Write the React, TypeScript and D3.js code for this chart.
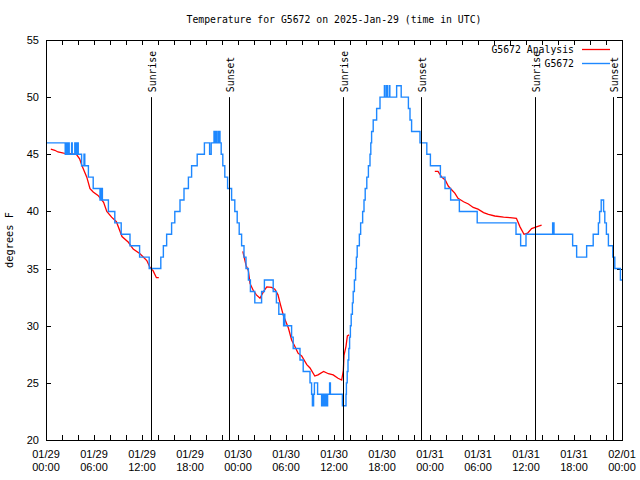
import { useEffect, useRef } from 'react'
import * as d3 from 'd3'

const BASE = Date.UTC(2025, 0, 29)
const HOUR = 3600 * 1000

// G5672 observations: hours since 01/29 00:00 UTC where the reading changes, degrees F
const obsHours = [
  0, 2.4, 2.55, 2.63, 2.8, 2.9, 3.2, 3.28, 3.6, 3.68, 3.82, 3.9, 3.95, 4.03, 4.45, 4.75, 4.85, 5.3, 5.9, 6.75,
  6.9, 7.05, 7.8, 8.6, 9.4, 10.5, 11.7, 12.9, 14.35, 14.67, 15.08, 15.7, 16.1, 16.75, 17.25, 17.8, 18.2, 18.9,
  19.8, 20.45, 20.65, 21.0, 21.08, 21.25, 21.33, 21.52, 21.6, 21.67, 21.75, 21.9, 22.1, 22.35, 22.7, 23.2,
  23.6, 23.9, 24.15, 24.45, 24.75, 25.0, 25.3, 25.55, 26.1, 26.95, 27.3, 28.4, 28.8, 29.1, 29.7, 29.8, 29.85,
  30.7, 30.9, 31.75, 32.15, 33.0, 33.2, 33.3, 33.45, 33.55, 33.95, 34.45, 34.55, 34.65, 34.75, 34.85, 35.0,
  35.1, 35.2, 35.45, 35.55, 37.05, 37.5, 37.55, 37.65, 37.75, 37.85, 37.95, 38.05, 38.15, 38.3, 38.4, 38.55,
  38.7, 38.8, 38.9, 39.17, 39.33, 39.58, 39.75, 39.9, 40.1, 40.3, 40.5, 40.6, 40.7, 40.9, 41.33, 41.75,
  42.3, 42.38, 42.58, 42.66, 42.9, 42.98, 43.83, 44.4, 45.3, 45.5, 45.7, 46.0, 46.75, 47.6, 48.05, 49.3,
  49.875, 50.58, 51.67, 53.9, 58.75, 59.33, 60.0, 63.33, 63.5, 65.83, 66.33, 67.58, 68.4, 69.05, 69.2, 69.4,
  69.7, 69.85, 70.05, 70.3, 70.85, 71.1, 71.8, 72,
]
const obsTemps = [
  46, 45, 46, 45, 46, 45, 46, 45, 46, 45, 46, 45, 46, 45, 44, 45, 44, 43, 42, 41,
  42, 41, 40, 39, 38, 37, 36, 35, 36, 37, 38, 39, 40, 41, 42, 43, 44, 45,
  46, 45, 46, 47, 46, 47, 46, 47, 46, 47, 46, 45, 44, 43, 42, 41,
  40, 39, 38, 37, 36, 35, 34, 33, 32, 33, 34, 33, 32, 31, 30, 31, 30,
  29, 28, 27, 26, 25, 24, 23, 24, 25, 24, 23, 24, 23, 24, 23, 24,
  23, 24, 25, 24, 23, 24, 25, 26, 27, 28, 29, 30, 31, 32, 33, 34,
  35, 36, 37, 38, 39, 40, 41, 42, 43, 44, 45, 46, 47, 48, 49, 50,
  51, 50, 51, 50, 51, 50, 51, 50, 49, 48, 47, 47, 46, 45, 44, 43,
  42, 41, 40, 39, 38, 37, 38, 39, 38, 37, 36, 37, 38, 39, 40, 41,
  40, 39, 38, 37, 36, 35, 34, 34,
]

// G5672 Analysis (null = no analysis)
const anaHours = [
  0.6, 1.1, 1.5, 2.2, 3.8, 4.2, 4.5, 4.8, 5.1, 5.5, 5.9, 6.5, 7.2, 7.6, 8.2, 8.8, 9.5, 10.3, 10.9, 11.75,
  12.6, 13.0, 13.4, 13.8, 14.1, 19,
  24.6, 25.0, 25.3, 25.5, 25.9, 26.3, 26.75, 27.2, 27.6, 28.2, 28.6, 29.0, 29.25, 29.67, 30.3, 30.7, 31.1,
  31.5, 31.96, 32.6, 33.0, 33.6, 34.0, 34.7, 35.3, 35.9, 36.5, 36.96, 37.17, 37.25, 37.5, 37.67, 37.9, 43,
  48.6, 49.0, 49.46, 49.9, 50.3, 50.7, 51.1, 51.5, 52.2, 52.8, 53.4, 54.0, 54.7, 55.3, 56.1, 57.2, 58.0,
  58.8, 59.25, 59.75, 60.2, 60.7, 61.3, 61.95,
]
const anaTemps = [
  45.45, 45.35, 45.2, 45.1, 45.0, 44.6, 44.0, 43.5, 43.0, 42.0, 41.7, 41.4, 40.8, 40.0, 39.5, 39.1, 37.8, 37.3, 36.7, 36.3,
  35.7, 35.1, 34.8, 34.2, 34.2, null,
  36.5, 35.3, 34.8, 33.7, 33.1, 32.7, 32.4, 33.0, 33.4, 33.35, 33.2, 32.7, 32.0, 30.9, 29.8, 28.75, 28.2,
  27.6, 27.35, 26.6, 26.3, 25.6, 25.7, 26.0, 25.8, 25.7, 25.4, 25.25, 26.1, 27.4, 28.2, 29.1, 29.2, null,
  43.5, 43.5, 43.0, 42.75, 42.2, 41.9, 41.6, 41.15, 40.85, 40.65, 40.35, 40.2, 39.9, 39.75, 39.6, 39.5, 39.45,
  39.4, 38.65, 38.0, 38.1, 38.5, 38.65, 38.8,
]

const sunHours = [13.15, 22.9, 37.17, 46.9, 61.1, 70.9]
const sunLabels = ['Sunrise', 'Sunset', 'Sunrise', 'Sunset', 'Sunrise', 'Sunset']
const yTicks = [20, 25, 30, 35, 40, 45, 50, 55]

const MONO = '"DejaVu Sans Mono", monospace'
const SANS = '"Liberation Sans", Arial, sans-serif'

const App = () => {
  const svgRef = useRef<SVGSVGElement>(null)

  useEffect(() => {
    if (!svgRef.current) return
    const width = 640
    const height = 480
    const margin = { top: 40, right: 18, bottom: 40, left: 46 }

    const svg = d3.select(svgRef.current)
    svg.selectAll('*').remove()

    const x = d3.scaleUtc()
      .domain([new Date(BASE), new Date(BASE + 72 * HOUR)])
      .range([margin.left, width - margin.right])
    const y = d3.scaleLinear()
      .domain([20, 55])
      .range([height - margin.bottom, margin.top])

    const toDate = (h: number) => new Date(BASE + h * HOUR)
    const x0 = margin.left, x1 = width - margin.right
    const y0 = height - margin.bottom, y1 = margin.top

    svg.append('rect')
      .attr('width', width).attr('height', height).attr('fill', '#fff')

    // tick marks
    const g = svg.append('g').attr('stroke', '#000').attr('stroke-width', 1).attr('shape-rendering', 'crispEdges')
    x.ticks(d3.utcHour.every(2)!).forEach(t => {
      const px = Math.round(x(t)) + 0.5
      g.append('line').attr('x1', px).attr('x2', px).attr('y1', y0).attr('y2', y0 - 5)
      g.append('line').attr('x1', px).attr('x2', px).attr('y1', y1).attr('y2', y1 + 5)
    })
    yTicks.forEach(v => {
      const py = Math.round(y(v)) + 0.5
      g.append('line').attr('x1', x0).attr('x2', x0 + 5).attr('y1', py).attr('y2', py)
      g.append('line').attr('x1', x1).attr('x2', x1 - 5).attr('y1', py).attr('y2', py)
    })

    // y tick labels
    svg.append('g')
      .selectAll('text')
      .data(yTicks)
      .join('text')
      .attr('x', x0 - 7)
      .attr('y', d => y(d) + 4)
      .attr('text-anchor', 'end')
      .attr('font-family', SANS)
      .attr('font-size', 11)
      .text(d => d)

    // x tick labels
    const fmtDay = d3.utcFormat('%m/%d')
    const fmtTime = d3.utcFormat('%H:%M')
    const xl = svg.append('g')
      .selectAll('text')
      .data(x.ticks(d3.utcHour.every(6)!))
      .join('text')
      .attr('text-anchor', 'middle')
      .attr('font-family', SANS)
      .attr('font-size', 11)
    xl.append('tspan').attr('x', d => x(d)).attr('y', 458).text(d => fmtDay(d))
    xl.append('tspan').attr('x', d => x(d)).attr('y', 471).text(d => fmtTime(d))

    // analysis (red), then observations (blue)
    const ana = anaHours.map((h, i) => ({ t: toDate(h), v: anaTemps[i] }))
    const anaLine = d3.line<{ t: Date; v: number | null }>()
      .defined(d => d.v !== null)
      .x(d => x(d.t))
      .y(d => y(d.v as number))
    svg.append('path')
      .attr('d', anaLine(ana))
      .attr('fill', 'none')
      .attr('stroke', '#ff0000')
      .attr('stroke-width', 1.3)

    const obs = obsHours.map((h, i) => ({ t: toDate(h), v: obsTemps[i] }))
    const obsLine = d3.line<{ t: Date; v: number }>()
      .curve(d3.curveStepAfter)
      .x(d => x(d.t))
      .y(d => y(d.v))
    svg.append('path')
      .attr('d', obsLine(obs))
      .attr('fill', 'none')
      .attr('stroke', '#1e88ff')
      .attr('stroke-width', 1.4)

    // sunrise / sunset markers
    sunHours.forEach((h, i) => {
      const px = Math.round(x(toDate(h))) + 0.5
      svg.append('line')
        .attr('x1', px).attr('x2', px)
        .attr('y1', y(50)).attr('y2', y(20))
        .attr('stroke', '#000').attr('stroke-width', 1)
      svg.append('text')
        .attr('transform', `translate(${px + 4},${y(50) - 5}) rotate(-90)`)
        .attr('text-anchor', 'start')
        .attr('font-family', MONO)
        .attr('font-size', 9.8)
        .text(sunLabels[i])
    })

    // frame
    svg.append('rect')
      .attr('x', x0 + 0.5).attr('y', y1 + 0.5)
      .attr('width', x1 - x0).attr('height', y0 - y1)
      .attr('fill', 'none').attr('stroke', '#000').attr('stroke-width', 1)
      .attr('shape-rendering', 'crispEdges')

    // title and axis label
    svg.append('text')
      .attr('x', (x0 + x1) / 2).attr('y', 23)
      .attr('text-anchor', 'middle')
      .attr('font-family', MONO).attr('font-size', 9.8)
      .text('Temperature for G5672 on 2025-Jan-29 (time in UTC)')
    svg.append('text')
      .attr('transform', `translate(13,${(y0 + y1) / 2}) rotate(-90)`)
      .attr('text-anchor', 'middle')
      .attr('font-family', MONO).attr('font-size', 10.3)
      .text('degrees F')

    // legend
    const legend = [
      { label: 'G5672 Analysis', color: '#ff0000', width: 1.3 },
      { label: 'G5672', color: '#1e88ff', width: 1.4 },
    ]
    legend.forEach((d, i) => {
      const ly = 49.5 + i * 14
      svg.append('text')
        .attr('x', 574).attr('y', ly + 3.5)
        .attr('text-anchor', 'end')
        .attr('font-family', MONO).attr('font-size', 9.8)
        .text(d.label)
      svg.append('line')
        .attr('x1', 582).attr('x2', 610).attr('y1', ly).attr('y2', ly)
        .attr('stroke', d.color).attr('stroke-width', d.width)
    })
  }, [])

  return (
    <div style={{ position: 'absolute', left: 0, top: 0 }}>
      <svg ref={svgRef} width={640} height={480} style={{ display: 'block' }} />
    </div>
  )
}

export default App
